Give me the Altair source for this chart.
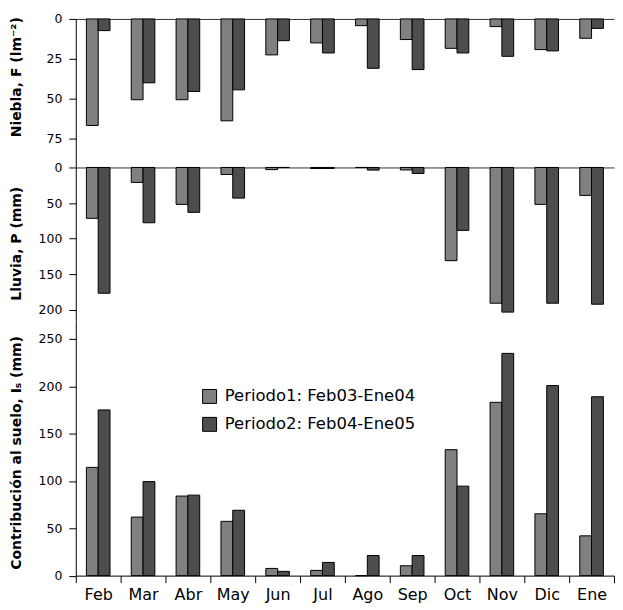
import altair as alt
import pandas as pd

months = ["Feb", "Mar", "Abr", "May", "Jun", "Jul", "Ago", "Sep", "Oct", "Nov", "Dic", "Ene"]
periods = ["Periodo1: Feb03-Ene04", "Periodo2: Feb04-Ene05"]
colors = ["#808080", "#4d4d4d"]

niebla_p1 = [66.7, 50.6, 50.6, 63.8, 22.5, 15.0, 4.2, 12.9, 18.4, 4.8, 19.2, 12.1]
niebla_p2 = [7.3, 40.0, 45.4, 44.4, 13.6, 21.3, 30.9, 31.7, 21.3, 23.4, 20.0, 5.9]

lluvia_p1 = [71.4, 21.0, 51.8, 9.8, 3.0, 1.5, 0.0, 3.5, 130.8, 190.5, 51.8, 39.2]
lluvia_p2 = [176.5, 77.6, 63.0, 43.0, 0.0, 1.5, 3.7, 8.4, 88.3, 203.0, 190.5, 191.9]

suelo_p1 = [114.3, 61.8, 84.0, 57.3, 7.6, 5.5, 0.0, 10.4, 133.0, 183.0, 65.3, 42.0]
suelo_p2 = [175.0, 99.3, 85.0, 69.0, 4.5, 13.9, 21.2, 21.2, 94.5, 234.7, 200.7, 188.9]

niebla_ticks = [0, 25, 50, 75]
lluvia_ticks = [0, 50, 100, 150, 200]
suelo_ticks = [0, 50, 100, 150, 200, 250]

FONT = "DejaVu Sans"
W = 540


def frame(p1, p2):
    rows = []
    for m, a, b in zip(months, p1, p2):
        rows.append({"mes": m, "periodo": periods[0], "valor": a})
        rows.append({"mes": m, "periodo": periods[1], "valor": b})
    return pd.DataFrame(rows)


def yaxis(title, ticks, ty):
    return alt.Axis(
        title=title, values=ticks, grid=False, tickSize=7, labelPadding=7,
        labelOverlap=False,
        titleX=-59, titleY=ty, titleAngle=270, titleAlign="center", titleBaseline="middle",
        domainColor="black", tickColor="black", labelFont=FONT, labelFontSize=12.5,
        labelColor="black", titleFont=FONT, titleFontSize=14, titleFontWeight="bold",
        titleColor="black",
    )


x_scale = alt.Scale(domain=months, paddingInner=0, paddingOuter=0)


def xoff():
    return alt.XOffset("periodo:N", scale=alt.Scale(domain=periods, paddingInner=0, paddingOuter=0.9))


def panel(df, title, ticks, domain, reverse, height, ty, bottom_axis, legend):
    if bottom_axis:
        xa = alt.Axis(title=None, labelAngle=0, tickBand="extent", tickSize=7, labelPadding=4,
                      labelFont=FONT, labelFontSize=16, labelColor="black",
                      domainColor="black", tickColor="black")
    else:
        xa = alt.Axis(orient="top", title=None, labels=False, ticks=False,
                      domainColor="#333333", domainWidth=1)
    bars = alt.Chart(df).mark_bar(stroke="black", strokeWidth=1).encode(
        x=alt.X("mes:N", scale=x_scale, axis=xa, sort=months),
        xOffset=xoff(),
        y=alt.Y("valor:Q", scale=alt.Scale(domain=domain, reverse=reverse, nice=False),
                axis=yaxis(title, ticks, ty)),
        color=alt.Color("periodo:N", scale=alt.Scale(domain=periods, range=colors), legend=legend),
    )
    return bars.properties(width=W, height=height)


leg = alt.Legend(orient="none", legendX=126, legendY=68.5, title=None, symbolType="square",
                 symbolSize=196, symbolStrokeColor="black", symbolStrokeWidth=1,
                 labelFont=FONT, labelFontSize=16.5, labelColor="black", labelOffset=7,
                 labelLimit=0, rowPadding=9, direction="vertical")

p1 = panel(frame(niebla_p1, niebla_p2), "Niebla,  F  (lm⁻²)", niebla_ticks, [0, 93], True, 149, 58, False, None)
p2 = panel(frame(lluvia_p1, lluvia_p2), "Lluvia,  P  (mm)", lluvia_ticks, [0, 214], True, 153, 76, False, None)
p3 = panel(frame(suelo_p1, suelo_p2), "Contribución al suelo,  Iₛ  (mm)", suelo_ticks, [0, 270], False, 256.5, 133, True, leg)

chart = alt.vconcat(p1, p2, p3, spacing=0, bounds="flush").resolve_scale(
    color="independent"
).configure_view(stroke=None).properties(
    padding={"left": 1, "top": 2, "right": 0, "bottom": 0},
    background="white",
)

chart.save("out.html", embed_options={"renderer": "svg", "actions": False})
